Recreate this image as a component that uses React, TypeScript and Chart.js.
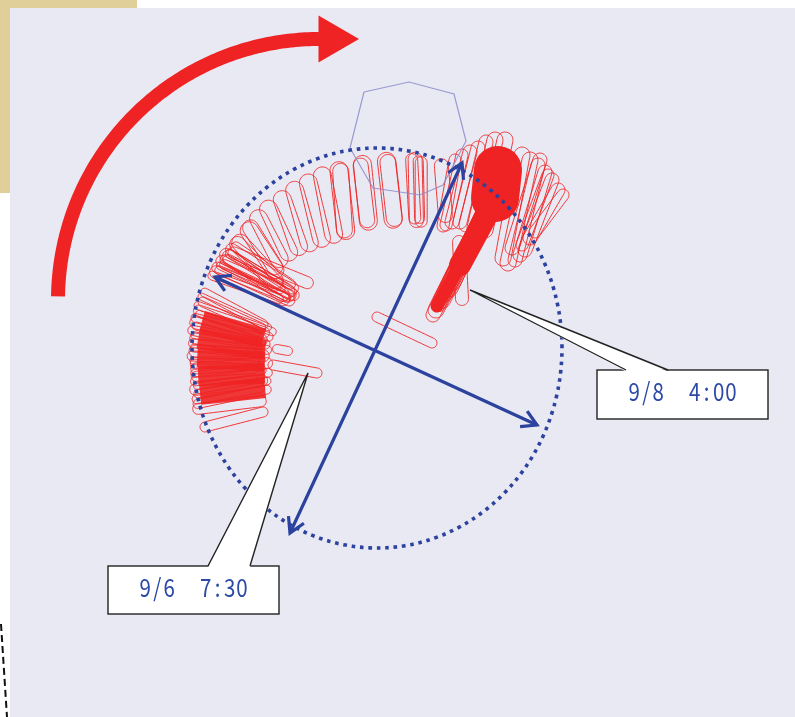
import React, { useEffect, useRef } from 'react';
import { Chart, registerables } from 'chart.js';
Chart.register(...registerables);

// Frame in distance units (1 unit ~ 1 px), origin = centre of the reference circle, y up
const X_MIN = -375; const X_MAX = 420; const Y_MIN = -369; const Y_MAX = 348;

// Reference circle (dotted)
const CIRCLE = { cx: 2, cy: 0, rx: 185, ry: 200 };

// Upper band of eye loops (polar: degrees ccw from east, radius of loop end points)
const bandOuterAngle = [79, 78, 77, 76, 70, 86.5, 86, 93.9, 94.5, 101.5, 101, 107, 112, 117, 122, 127.5, 132, 137, 136, 143, 142, 148];
const bandOuterR = [192, 193, 192, 191, 194, 187, 186, 184, 183, 181, 180, 180, 178, 177, 175, 175, 174, 172, 173, 172, 171, 172];
const bandInnerAngle = [73, 72, 71, 70, 62, 82, 81.5, 93, 93.5, 104, 104.5, 110, 116, 122, 127, 132, 137, 142, 141, 147, 146, 150];
const bandInnerR = [136, 134, 137, 135, 150, 130, 131, 127, 128, 121, 122, 121, 122, 124, 127, 129, 131, 127, 129, 119, 121, 107];
const bandWidth = [12, 14, 10, 12, 14, 18, 16, 18, 15, 18, 16, 18, 18, 18, 18, 18, 18, 18, 16, 16, 17, 14];

// Dense knot of loops, upper-left
const clusterOuterAngle = [144, 145.5, 147, 148, 149.5, 150.5, 152, 153, 154.5, 156, 146, 151, 149, 153.5];
const clusterOuterR = [172, 174, 173, 175, 174, 176, 175, 177, 176, 178, 170, 172, 171, 174];
const clusterInnerAngle = [143, 144, 146, 147, 148, 149, 150, 151, 152, 153, 136, 148, 147, 150.5];
const clusterInnerR = [106, 102, 100, 104, 99, 101, 103, 98, 104, 108, 94, 112, 97, 102];
const clusterWidth = [10, 12, 9, 14, 10, 12, 8, 11, 13, 9, 12, 10, 11, 9];

// Dense loops on the west side (9/6)
const leftOuterAngle = [162, 163.5, 165, 166.5, 168, 169, 170.5, 172, 173, 174.5, 176, 177, 178.5, 180, 181, 182.5, 184, 185, 186.5, 188, 189, 190.5, 192, 193, 194.5, 196, 197.5, 199];
const leftOuterR = [179, 181, 178, 182, 180, 179, 182, 181, 180, 183, 181, 180, 182, 181, 180, 183, 182, 181, 180, 182, 181, 183, 182, 184, 183, 185, 186, 187];
const leftInnerAngle = [168, 169, 170, 171, 172, 173, 174, 176, 177, 178, 179, 180, 181, 182.5, 184, 185, 186, 187, 188, 190, 191, 193, 194, 196, 197, 199, 201, 205];
const leftInnerR = [114, 109, 116, 104, 112, 119, 107, 114, 122, 110, 116, 124, 108, 119, 112, 126, 114, 121, 109, 123, 116, 110, 125, 118, 113, 122, 116, 126];
const leftWidth = [9, 7, 10, 8, 11, 7, 9, 12, 8, 10, 7, 11, 9, 8, 12, 10, 7, 9, 11, 8, 10, 9, 7, 12, 8, 10, 9, 11];

// Solid core of the west loops
const coreOuterAngle = [171, 177, 183, 189, 195];
const coreInnerAngle = [175, 181, 187, 193, 200];
const coreOuterR = [175, 177, 178, 179, 181];
const coreInnerR = [112, 110, 111, 113, 117];

// North-east loops (9/8)
const rightTopX = [95, 87, 103, 80, 111, 120, 130, 147, 155, 163, 170, 177, 183, 188, 173, 165];
const rightTopY = [196, 193, 200, 188, 206, 208, 208, 193, 188, 183, 176, 168, 158, 153, 173, 188];
const rightBotX = [77, 71, 85, 68, 91, 100, 110, 128, 133, 140, 145, 150, 155, 160, 147, 137];
const rightBotY = [126, 123, 126, 122, 123, 120, 118, 90, 85, 88, 93, 98, 110, 116, 103, 100];
const rightWidth = [14, 12, 14, 12, 14, 16, 16, 16, 16, 14, 14, 14, 14, 12, 12, 14];

// NE dense head and tail
const headX = [123, 120]; const headY = [178, 150];
const tailX = [112, 85, 62]; const tailY = [133, 83, 42];
const tailLoopTipX = [58, 61, 64, 67, 70, 74, 78];
const tailLoopTipY = [33, 38, 43, 48, 54, 60, 66];
const tailLoopWidth = [14, 16, 13, 17, 15, 18, 16];

// Isolated loops
const singleAX = [84, 2, -102, -98, -170];
const singleAY = [106, 31, -17, -1, -79];
const singleBX = [87, 57, -58, -87, -112];
const singleBY = [49, 5, -25, -3, -64];
const singleW = [13, 10, 10, 9, 10];

// Outline (octagon) near the top
const polyX = [-11, 34, 79, 91, 68, 45, -2, -25, -11];
const polyY = [256, 266, 254, 207, 163, 153, 160, 200, 256];

// Big curved arrow (direction of motion): circular arc, then a triangular head
const bigArrowArc = { cx: -56, cy: 48, r: 261, fromDeg: 179.2, toDeg: 90 };
const bigArrowHead = { x: -43, y: 309 };

// Double-headed diameter arrows
const diamA = [[-85, -185], [87, 185]];
const diamB = [[-160, 71], [162, -77]];

// Callouts
const callouts = [
  { text: '9/6  7:30', box: [-267, -218, -96, -266], base: [-167, -125], tip: [-67, -25] },
  { text: '9/8  4:00', box: [222, -22, 393, -71], base: [251, 293], tip: [95, 58] },
];

const RED = '#EF2323';
const BLUE = '#2B429E';

const rad = (d: number) => (d * Math.PI) / 180;
const polar = (a: number, r: number) => ({ x: r * Math.cos(rad(a)), y: r * Math.sin(rad(a)) });

function stadium(x1: number, y1: number, x2: number, y2: number, w: number) {
  const dx = x2 - x1, dy = y2 - y1;
  const len = Math.hypot(dx, dy) || 1;
  const ux = dx / len, uy = dy / len, nx = -uy, ny = ux, h = w / 2;
  const pts: { x: number; y: number }[] = [];
  const N = 10;
  for (let i = 0; i <= N; i++) {
    const a = Math.PI / 2 - (Math.PI * i) / N;
    const c = Math.cos(a), s = Math.sin(a);
    pts.push({ x: x2 + h * (ux * c + nx * s), y: y2 + h * (uy * c + ny * s) });
  }
  for (let i = 0; i <= N; i++) {
    const a = -Math.PI / 2 - (Math.PI * i) / N;
    const c = Math.cos(a), s = Math.sin(a);
    pts.push({ x: x1 + h * (ux * c + nx * s), y: y1 + h * (uy * c + ny * s) });
  }
  pts.push(pts[0]);
  return pts;
}

function chevron(ex: number, ey: number, fx: number, fy: number, L: number, ang: number) {
  const dx = ex - fx, dy = ey - fy;
  const len = Math.hypot(dx, dy);
  const ux = dx / len, uy = dy / len;
  const arm = (a: number) => ({
    x: ex - L * (ux * Math.cos(a) - uy * Math.sin(a)),
    y: ey - L * (ux * Math.sin(a) + uy * Math.cos(a)),
  });
  return [arm(rad(ang)), { x: ex, y: ey }, arm(-rad(ang))];
}

function buildDatasets() {
  const ds: any[] = [];
  // a tiny tension keeps Chart.js off its x-monotonic fast path, so closed shapes draw exactly
  const line = (data: any[], o: any) =>
    ds.push({ data, showLine: true, pointRadius: 0, fill: false, tension: 0.0001, borderWidth: 1, borderColor: RED, ...o });
  const loop = (p1: any, p2: any, w: number) =>
    line(stadium(p1.x, p1.y, p2.x, p2.y, w), { order: 5, borderColor: 'rgba(239,35,35,0.9)', borderWidth: 1 });

  // solid core strokes
  coreOuterAngle.forEach((a, i) => {
    line([polar(a, coreOuterR[i]), polar(coreInnerAngle[i], coreInnerR[i])], {
      order: 6, borderWidth: 20, borderColor: 'rgba(239,35,35,0.9)', borderCapStyle: 'butt',
    });
  });
  line([{ x: headX[0], y: headY[0] }, { x: headX[1], y: headY[1] }], { order: 6, borderWidth: 48, borderCapStyle: 'round' });
  line(tailX.slice(0, 2).map((x, i) => ({ x, y: tailY[i] })), { order: 6, borderWidth: 22, borderCapStyle: 'round' });
  line(tailX.slice(1).map((x, i) => ({ x, y: tailY[i + 1] })), { order: 6, borderWidth: 13, borderCapStyle: 'round' });

  bandOuterAngle.forEach((a, i) => loop(polar(a, bandOuterR[i]), polar(bandInnerAngle[i], bandInnerR[i]), bandWidth[i]));
  clusterOuterAngle.forEach((a, i) => loop(polar(a, clusterOuterR[i]), polar(clusterInnerAngle[i], clusterInnerR[i]), clusterWidth[i]));
  leftOuterAngle.forEach((a, i) => loop(polar(a, leftOuterR[i]), polar(leftInnerAngle[i], leftInnerR[i]), leftWidth[i]));
  rightTopX.forEach((x, i) => loop({ x, y: rightTopY[i] }, { x: rightBotX[i], y: rightBotY[i] }, rightWidth[i]));
  tailLoopTipX.forEach((x, i) => loop({ x: 117, y: 150 }, { x, y: tailLoopTipY[i] }, tailLoopWidth[i]));
  singleAX.forEach((x, i) => loop({ x, y: singleAY[i] }, { x: singleBX[i], y: singleBY[i] }, singleW[i]));

  // octagon outline
  line(polyX.map((x, i) => ({ x, y: polyY[i] })), { order: 3, borderColor: 'rgba(140,140,205,0.85)', borderWidth: 1.2 });

  // dotted circle
  const circ: any[] = [];
  for (let i = 0; i <= 240; i++) {
    const t = (i / 240) * Math.PI * 2;
    circ.push({ x: CIRCLE.cx + CIRCLE.rx * Math.cos(t), y: CIRCLE.cy + CIRCLE.ry * Math.sin(t) });
  }
  line(circ, { order: 2, borderColor: BLUE, borderWidth: 3.6, borderDash: [3.6, 4.8], borderCapStyle: 'butt' });

  // diameter arrows
  [diamA, diamB].forEach(([p, q]) => {
    line([{ x: p[0], y: p[1] }, { x: q[0], y: q[1] }], { order: 1, borderColor: BLUE, borderWidth: 3.2 });
    line(chevron(p[0], p[1], q[0], q[1], 17, 30), { order: 1, borderColor: BLUE, borderWidth: 3.2, tension: 0, borderDash: [100, 0], borderJoinStyle: 'miter' });
    line(chevron(q[0], q[1], p[0], p[1], 17, 30), { order: 1, borderColor: BLUE, borderWidth: 3.2, tension: 0, borderDash: [100, 0], borderJoinStyle: 'miter' });
  });

  // big motion arrow
  const arc: any[] = [];
  const A = bigArrowArc;
  for (let i = 0; i <= 60; i++) {
    const d = A.fromDeg + ((A.toDeg - A.fromDeg) * i) / 60;
    arc.push({ x: A.cx + A.r * Math.cos(rad(d)), y: A.cy + A.r * Math.sin(rad(d)) });
  }
  line(arc, { order: 0, borderColor: RED, borderWidth: 14, borderCapStyle: 'butt' });
  ds.push({
    data: [bigArrowHead], showLine: false, order: 0, pointStyle: 'triangle', rotation: 90,
    pointRadius: 27, backgroundColor: RED, borderColor: RED, borderWidth: 0,
  });
  return ds;
}

const backgroundPlugin = {
  id: 'bg',
  beforeDraw(chart: any) {
    const { ctx, scales } = chart;
    const px = (v: number) => scales.x.getPixelForValue(v);
    const py = (v: number) => scales.y.getPixelForValue(v);
    ctx.save();
    ctx.fillStyle = '#ffffff';
    ctx.fillRect(0, 0, chart.width, chart.height);
    ctx.fillStyle = '#E0CF99';
    ctx.fillRect(px(-375), py(348), px(-238) - px(-375), py(155) - py(348));
    ctx.fillStyle = '#E9E9F3';
    ctx.fillRect(px(-365), py(340), px(420) - px(-365), py(-369) - py(340));
    ctx.strokeStyle = '#111';
    ctx.lineWidth = 2;
    ctx.setLineDash([7, 4]);
    ctx.beginPath();
    ctx.moveTo(px(-374), py(-276));
    ctx.lineTo(px(-368), py(-369));
    ctx.stroke();
    ctx.restore();
  },
};

const calloutPlugin = {
  id: 'callouts',
  afterDatasetsDraw(chart: any) {
    const { ctx, scales } = chart;
    const sx = (v: number) => scales.x.getPixelForValue(v);
    const sy = (v: number) => scales.y.getPixelForValue(v);
    ctx.save();
    callouts.forEach((c) => {
      const L = sx(c.box[0]), T = sy(c.box[1]), R = sx(c.box[2]), B = sy(c.box[3]);
      ctx.lineWidth = 1.4;
      ctx.strokeStyle = '#222';
      ctx.fillStyle = '#ffffff';
      ctx.fillRect(L, T, R - L, B - T);
      ctx.strokeRect(L, T, R - L, B - T);
      const b1 = sx(c.base[0]), b2 = sx(c.base[1]), tx = sx(c.tip[0]), ty = sy(c.tip[1]);
      ctx.beginPath();
      ctx.moveTo(b1, T + 1.5);
      ctx.lineTo(tx, ty);
      ctx.lineTo(b2, T + 1.5);
      ctx.closePath();
      ctx.fill();
      ctx.beginPath();
      ctx.moveTo(b1, T);
      ctx.lineTo(tx, ty);
      ctx.lineTo(b2, T);
      ctx.stroke();
      // text in fixed-width cells
      ctx.fillStyle = '#2C49A6';
      ctx.font = '25px "Noto Sans CJK JP", "Noto Sans", sans-serif';
      ctx.textAlign = 'center';
      ctx.textBaseline = 'alphabetic';
      const chars = Array.from(c.text);
      const cell = 12.1;
      const start = (L + R) / 2 - (cell * chars.length) / 2;
      chars.forEach((ch, i) => {
        if (ch === ' ') return;
        ctx.save();
        ctx.translate(start + (i + 0.5) * cell, T + 31);
        ctx.scale(0.82, 1);
        ctx.fillText(ch, 0, 0);
        ctx.restore();
      });
    });
    ctx.restore();
  },
};

export default function App() {
  const ref = useRef<HTMLCanvasElement | null>(null);
  useEffect(() => {
    if (!ref.current) return;
    const chart = new Chart(ref.current, {
      type: 'scatter',
      data: { datasets: buildDatasets() },
      options: {
        animation: false,
        responsive: false,
        devicePixelRatio: 1,
        events: [],
        layout: { padding: 0, autoPadding: false },
        plugins: { legend: { display: false }, tooltip: { enabled: false } },
        scales: {
          x: { type: 'linear', min: X_MIN, max: X_MAX, display: false },
          y: { type: 'linear', min: Y_MIN, max: Y_MAX, display: false },
        },
      },
      plugins: [backgroundPlugin, calloutPlugin],
    } as any);
    return () => chart.destroy();
  }, []);
  return (
    <div style={{ position: 'absolute', left: 0, top: 0, width: 795, height: 717 }}>
      <canvas ref={ref} width={795} height={717} style={{ display: 'block' }} />
    </div>
  );
}
